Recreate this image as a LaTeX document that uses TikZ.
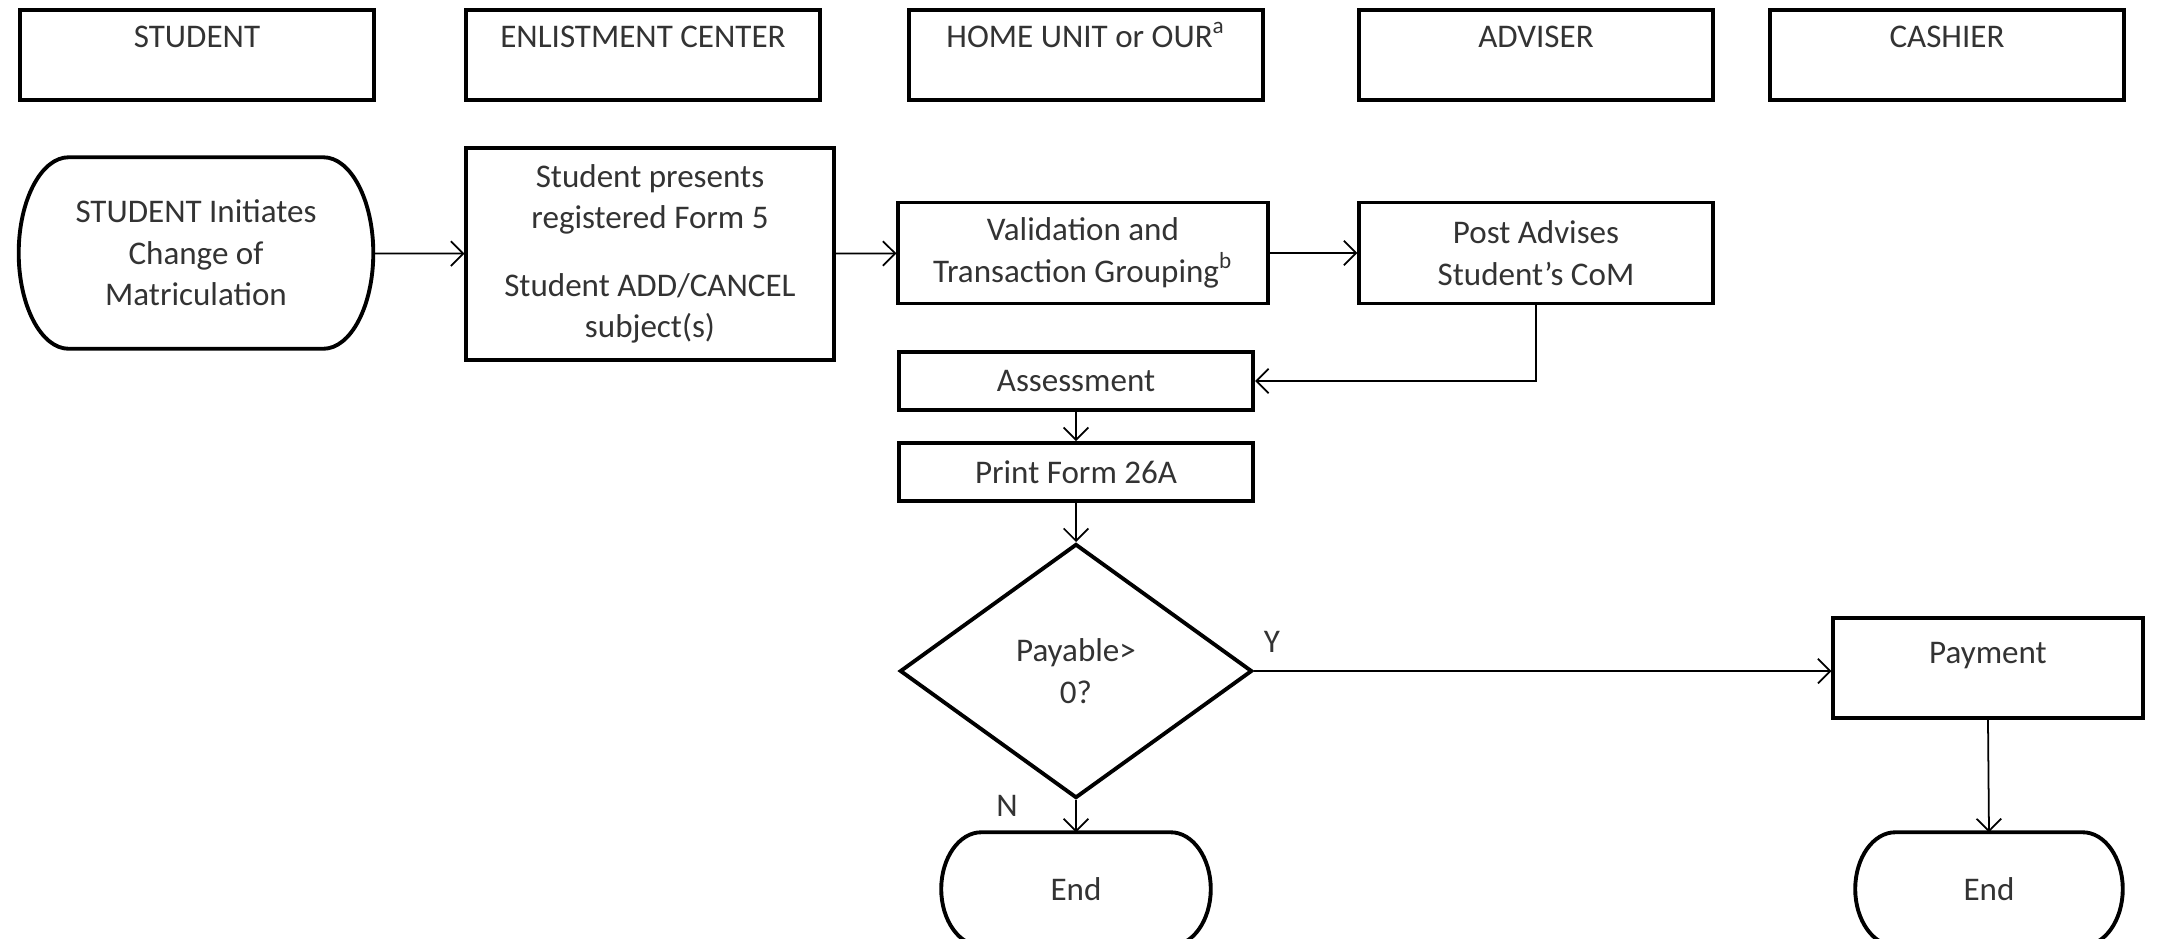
\documentclass[tikz,border=0pt]{standalone}
\usepackage{fontspec}
\setmainfont{Carlito}
\usetikzlibrary{arrows.meta,shapes.geometric,calc}
\newcommand\colorBox{black}
\newcommand\colorLabel{black!80}
\newcommand\boxLine{1.1pt}
\newcommand\flowLine{0.5pt}
\newcommand\laneY{55}
% outline round a terminal node: straight top and bottom, bulging sides
\newcommand\drawTerminal[2]{
	\draw[draw=\colorBox, line width=\boxLine]
	([xshift=#2cm]#1.north west) -- ([xshift=-#2cm]#1.north east)
	.. controls ([xshift={-0.45*#2cm}]#1.north east) and ($(#1.north east)!0.45!(#1.east)$) .. (#1.east)
	.. controls ($(#1.south east)!0.45!(#1.east)$) and ([xshift={-0.45*#2cm}]#1.south east) .. ([xshift=-#2cm]#1.south east)
	-- ([xshift=#2cm]#1.south west)
	.. controls ([xshift={0.45*#2cm}]#1.south west) and ($(#1.south west)!0.45!(#1.west)$) .. (#1.west)
	.. controls ($(#1.north west)!0.45!(#1.west)$) and ([xshift={0.45*#2cm}]#1.north west) .. ([xshift=#2cm]#1.north west)
	-- cycle;
}
\tikzset{
	every node/.style={text=\colorLabel, font=\fontsize{9.4}{11.8}\selectfont},
	lanebox/.style={draw=\colorBox, line width=\boxLine, minimum width=3.53cm,
		text height=0.27cm, text depth=0.43cm, inner ysep=0.1cm},
	stepbox/.style={draw=\colorBox, line width=\boxLine, align=center, inner sep=0pt},
	terminal/.style={align=center, inner sep=0pt},
	decision/.style={draw=\colorBox, line width=\boxLine, align=center, inner sep=0pt,
		diamond, minimum width=3.52cm, minimum height=2.54cm},
	flow/.style={draw=\colorBox, line width=\flowLine,
		-{Straight Barb[length=3.5pt,width=7pt]}},
}
\begin{document}
\begin{tikzpicture}[x=0.01cm, y=-0.01cm]
	\useasboundingbox (0,0) rectangle (2165,938);
	
	% lanes
	\node[lanebox] (laneStudent) at (197,\laneY) {STUDENT};
	\node[lanebox] (laneEnlist) at (643,\laneY) {ENLISTMENT CENTER};
	\node[lanebox] (laneHome) at (1086,\laneY) {HOME UNIT or OUR\textsuperscript{a}};
	\node[lanebox] (laneAdviser) at (1536,\laneY) {ADVISER};
	\node[lanebox] (laneCashier) at (1947,\laneY) {CASHIER};
	
	% steps
	\node[terminal, minimum width=3.53cm, minimum height=1.90cm]
		(start) at (196,253) {STUDENT Initiates\\Change of\\Matriculation};
	\node[stepbox, minimum width=3.67cm, minimum height=2.12cm] (form) at (650,254)
		{Student presents\\registered Form 5\\[0.26cm]Student ADD/CANCEL\\subject(s)};
	\node[stepbox, minimum width=3.69cm, minimum height=1.01cm] (valid) at (1083,253)
		{Validation and\\Transaction Grouping\textsuperscript{b}};
	\node[stepbox, minimum width=3.53cm, minimum height=1.01cm] (post) at (1536,253)
		{Post Advises\\Student’s CoM};
	\node[stepbox, minimum width=3.54cm, minimum height=0.58cm] (assess) at (1076,381) {Assessment};
	\node[stepbox, minimum width=3.54cm, minimum height=0.58cm] (print) at (1076,472) {Print Form 26A};
	\node[decision] (payable) at (1076,671) {Payable>\\0?};
	\node[stepbox, minimum width=3.09cm, minimum height=1.00cm, text depth=0.3cm]
		(payment) at (1988,668) {Payment};
	\node[terminal, minimum width=2.68cm, minimum height=1.12cm]
		(endNo) at (1076,889) {End};
	\node[terminal, minimum width=2.66cm, minimum height=1.12cm]
		(endYes) at (1989,889) {End};
	
	\drawTerminal{start}{0.5}
	\drawTerminal{endNo}{0.4}
	\drawTerminal{endYes}{0.4}
	
	\node (yes) at (1272,642) {Y};
	\node (no) at (1007,806) {N};
	
	% connectors
	\draw[flow] (start) -- (form);
	\draw[flow] (form) -- (valid);
	\draw[flow] (valid) -- (post);
	\draw[flow] (post.south) |- (assess.east);
	\draw[flow] (assess) -- (print);
	\draw[flow] (print) -- (payable);
	\draw[flow] (payable.east) -- (payable.east -| payment.west);
	\draw[flow] (payable.south) -- (endNo.north);
	\draw[flow] (payment.south) -- (endYes.north);
\end{tikzpicture}
\end{document}
